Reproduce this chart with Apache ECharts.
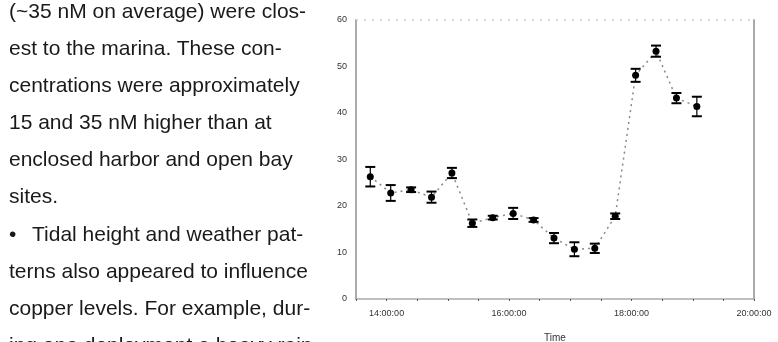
<!DOCTYPE html>
<html>
<head>
<meta charset="utf-8">
<script src="https://cdn.jsdelivr.net/npm/echarts@6/dist/echarts.min.js"></script>
<style>
  html, body { margin: 0; padding: 0; background: #fff; overflow: hidden; }
  #page { position: relative; width: 778px; height: 342px; overflow: hidden; }
  #text {
    position: absolute; left: 9px; top: -8px; width: 320px;
    font-family: "Liberation Sans", Arial, sans-serif; font-size: 21px;
    line-height: 37.1px; color: #1a1a1a; white-space: pre;
  }
  #text .bullet { display: inline-block; width: 23px; }
  #main { position: absolute; left: 0; top: 0; width: 778px; height: 342px; }
</style>
</head>
<body>
<div id="page">
  <div id="main"></div>
  <div id="text"></div>
</div>
<script>
// paragraph beside the chart, line breaks as in the source
let textLines = [
  '(~35 nM on average) were clos-',
  'est to the marina. These con-',
  'centrations were approximately',
  '15 and 35 nM higher than at',
  'enclosed harbor and open bay',
  'sites.',
  '\u2022Tidal height and weather pat-',
  'terns also appeared to influence',
  'copper levels. For example, dur-',
  'ing one deployment a heavy rain'
]
let textBox = document.getElementById('text')
textLines.forEach(function (line, i) {
  let div = document.createElement('div')
  if (line.charAt(0) === '\u2022') {
    let b = document.createElement('span')
    b.className = 'bullet'
    b.textContent = '\u2022'
    div.appendChild(b)
    div.appendChild(document.createTextNode(line.slice(1)))
  } else {
    div.textContent = line
  }
  textBox.appendChild(div)
})

// sampling times and measured copper (nM) with error
let times = ['13:44', '14:04', '14:24', '14:44', '15:04', '15:24', '15:44', '16:04', '16:24',
  '16:44', '17:04', '17:24', '17:44', '18:04', '18:24', '18:44', '19:04']
let copper = [26.3, 22.8, 23.5, 21.9, 27.1, 16.3, 17.5, 18.4, 17.0, 13.1, 10.7, 10.9, 17.8, 48.1, 53.3, 43.2, 41.4]
let errors = [2.1, 1.7, 0.5, 1.2, 1.1, 0.8, 0.4, 1.2, 0.4, 1.1, 1.5, 1.0, 0.6, 1.4, 1.2, 1.1, 2.1]
let hourLabels = [14, 16, 18, 20]

function toHours(t) {
  let p = t.split(':')
  return Number(p[0]) + Number(p[1]) / 60
}

let points = times.map((t, i) => [toHours(t), copper[i]])
let bars = times.map((t, i) => [toHours(t), copper[i] - errors[i], copper[i] + errors[i]])

var myChart = echarts.init(document.getElementById('main'))

myChart.setOption({
  animation: false,
  grid: { left: 356, top: 20, width: 398, height: 279, outerBoundsMode: 'none', containLabel: false },
  xAxis: {
    type: 'value',
    min: 13.5,
    max: 20,
    interval: 0.5,
    name: 'Time',
    nameLocation: 'middle',
    nameGap: 34,
    nameTextStyle: { fontSize: 10, color: '#333', fontFamily: 'Liberation Sans' },
    axisLine: { lineStyle: { color: '#aaa', width: 1.5 } },
    axisTick: { length: 2, lineStyle: { color: '#555' } },
    splitLine: { show: false },
    axisLabel: {
      fontSize: 9,
      color: '#333',
      margin: 10,
      fontFamily: 'Liberation Sans',
      formatter: function (v) {
        if (hourLabels.indexOf(v) < 0) return ''
        return v + ':00:00'
      }
    }
  },
  yAxis: [{
    type: 'value',
    min: 0,
    max: 60,
    interval: 10,
    axisLine: { show: true, lineStyle: { color: '#aaa', width: 2 } },
    axisTick: { show: false },
    splitLine: { show: false },
    axisLabel: { fontSize: 9, color: '#333', margin: 9, fontFamily: 'Liberation Sans' }
  }, {
    type: 'value',
    position: 'right',
    min: 0,
    max: 60,
    axisLine: { show: true, lineStyle: { color: '#aaa', width: 2 } },
    axisTick: { show: false },
    axisLabel: { show: false },
    splitLine: { show: false }
  }],
  series: [{
    type: 'line',
    data: points,
    symbol: 'circle',
    symbolSize: 7,
    itemStyle: { color: '#000' },
    lineStyle: { color: '#888', width: 1.5, type: [2, 4] },
    markLine: {
      silent: true,
      symbol: 'none',
      label: { show: false },
      lineStyle: { color: '#ccc', type: [2, 6], width: 1.5 },
      data: [{ yAxis: 60 }]
    },
    z: 3
  }, {
    type: 'custom',
    data: bars,
    renderItem: function (params, api) {
      let x = api.value(0)
      let lo = api.coord([x, api.value(1)])
      let hi = api.coord([x, api.value(2)])
      let half = 5
      let st = { stroke: '#000', lineWidth: 1.2 }
      let cap = { stroke: '#000', lineWidth: 2 }
      return {
        type: 'group',
        children: [
          { type: 'line', shape: { x1: lo[0], y1: lo[1], x2: hi[0], y2: hi[1] }, style: st },
          { type: 'line', shape: { x1: lo[0] - half, y1: lo[1], x2: lo[0] + half, y2: lo[1] }, style: cap },
          { type: 'line', shape: { x1: hi[0] - half, y1: hi[1], x2: hi[0] + half, y2: hi[1] }, style: cap }
        ]
      }
    },
    z: 4
  }]
})
</script>
</body>
</html>
